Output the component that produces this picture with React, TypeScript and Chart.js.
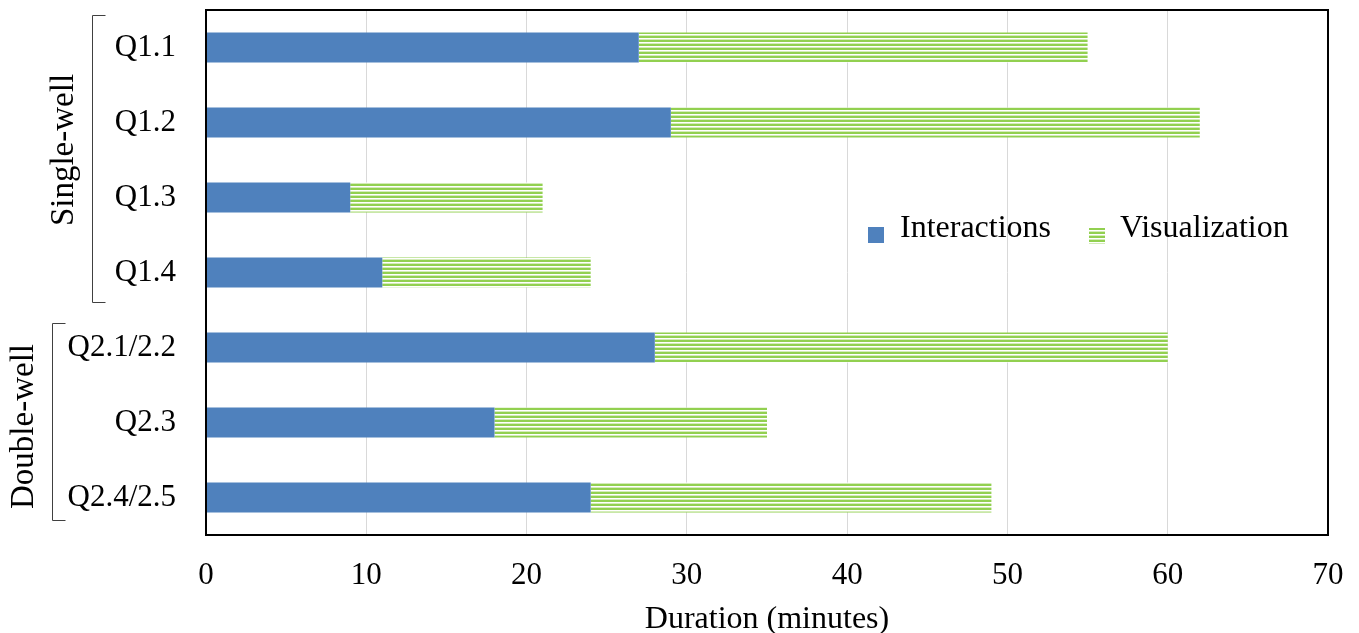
import React, { useEffect, useRef } from "react";
import { Chart, registerables } from "chart.js";

Chart.register(...registerables);

const categories = ["Q1.1", "Q1.2", "Q1.3", "Q1.4", "Q2.1/2.2", "Q2.3", "Q2.4/2.5"];
const interactions = [27, 29, 9, 11, 28, 18, 24];
const visualization = [28, 33, 12, 13, 32, 17, 25];
const seriesNames = ["Interactions", "Visualization"];
const groupNames = ["Single-well", "Double-well"];
const groupFirst = [0, 4];
const groupLast = [3, 6];
const axisTitle = "Duration (minutes)";

const FONT = "'Liberation Serif', 'Times New Roman', serif";
const BLUE = "#4F81BD";
const GREEN = "#92D050";

function makeStripes(ctx: CanvasRenderingContext2D): CanvasPattern | string {
  const c = document.createElement("canvas");
  c.width = 4;
  c.height = 4;
  const g = c.getContext("2d");
  if (!g) return GREEN;
  g.fillStyle = "#ffffff";
  g.fillRect(0, 0, 4, 4);
  g.fillStyle = GREEN;
  g.fillRect(0, 0, 4, 2);
  g.fillStyle = "#d4ecb9";
  g.fillRect(0, 3, 4, 1);
  const p = ctx.createPattern(c, "repeat");
  return p || GREEN;
}

function zeroPad(s: any) {
  s.paddingTop = 0;
  s.paddingBottom = 0;
  s.paddingLeft = 0;
  s.paddingRight = 0;
}

export default function App() {
  const ref = useRef<HTMLCanvasElement | null>(null);

  useEffect(() => {
    const canvas = ref.current;
    if (!canvas) return;
    const ctx0 = canvas.getContext("2d")!;
    const stripes = makeStripes(ctx0);

    const groupStyle = [
      { bracketX: 92, topInset: 33, bottomInset: 29, textX: 73, dy: -10 },
      { bracketX: 52, topInset: 25, bottomInset: 22, textX: 33, dy: 4 },
    ];

    const extras = {
      id: "extras",
      afterDatasetsDraw(chart: any) {
        const { ctx, chartArea } = chart;
        const y = chart.scales.y;
        ctx.save();
        // plot border
        ctx.strokeStyle = "#000000";
        ctx.lineWidth = 2;
        ctx.strokeRect(chartArea.left, chartArea.top, chartArea.right - chartArea.left, chartArea.bottom - chartArea.top);

        // groups
        ctx.strokeStyle = "#404040";
        ctx.lineWidth = 1;
        ctx.fillStyle = "#000000";
        ctx.font = `33px ${FONT}`;
        for (let i = 0; i < groupNames.length; i++) {
          const s = groupStyle[i];
          const y0 = y.getPixelForValue(groupFirst[i]) - s.topInset;
          const y1 = y.getPixelForValue(groupLast[i]) + s.bottomInset;
          ctx.beginPath();
          ctx.moveTo(s.bracketX + 13.5, Math.round(y0) + 0.5);
          ctx.lineTo(s.bracketX + 0.5, Math.round(y0) + 0.5);
          ctx.lineTo(s.bracketX + 0.5, Math.round(y1) + 0.5);
          ctx.lineTo(s.bracketX + 13.5, Math.round(y1) + 0.5);
          ctx.stroke();
          const cy = (y.getPixelForValue(groupFirst[i]) + y.getPixelForValue(groupLast[i])) / 2 + s.dy;
          ctx.save();
          ctx.translate(s.textX, cy);
          ctx.rotate(-Math.PI / 2);
          ctx.textAlign = "center";
          ctx.textBaseline = "alphabetic";
          ctx.fillText(groupNames[i], 0, 0);
          ctx.restore();
        }

        // legend
        ctx.font = `32px ${FONT}`;
        ctx.textBaseline = "alphabetic";
        ctx.textAlign = "left";
        const ly = 237;
        ctx.fillStyle = BLUE;
        ctx.fillRect(868, 227, 16, 16);
        ctx.fillStyle = "#000000";
        ctx.fillText(seriesNames[0], 900, ly);
        ctx.fillStyle = stripes as any;
        ctx.fillRect(1089, 228, 16, 16);
        ctx.fillStyle = "#000000";
        ctx.fillText(seriesNames[1], 1120, ly);
        ctx.restore();
      },
    };

    const chart = new Chart(canvas, {
      type: "bar",
      data: {
        labels: categories,
        datasets: [
          {
            label: seriesNames[0],
            data: interactions,
            backgroundColor: BLUE,
            borderWidth: 0,
            barPercentage: 0.4,
            categoryPercentage: 1.0,
          },
          {
            label: seriesNames[1],
            data: visualization,
            backgroundColor: stripes as any,
            borderWidth: 0,
            barPercentage: 0.4,
            categoryPercentage: 1.0,
          },
        ],
      },
      options: {
        indexAxis: "y",
        animation: false,
        responsive: true,
        maintainAspectRatio: false,
        layout: { padding: { top: 10, right: 31, left: 0, bottom: 0 } },
        plugins: {
          legend: { display: false },
          tooltip: { enabled: false },
        },
        scales: {
          x: {
            stacked: true,
            min: 0,
            max: 70,
            ticks: {
              stepSize: 10,
              color: "#000000",
              font: { family: FONT, size: 31 },
              padding: 22,
            },
            grid: { color: "#d9d9d9", lineWidth: 1, drawTicks: false },
            border: { display: false },
            title: {
              display: true,
              text: axisTitle,
              color: "#000000",
              font: { family: FONT, size: 32, lineHeight: 1.0 },
              padding: { top: 0, bottom: -3 },
            },
            afterFit: (s: any) => {
              s.height = 98;
              zeroPad(s);
            },
          },
          y: {
            stacked: true,
            ticks: {
              color: "#000000",
              font: { family: FONT, size: 31 },
              padding: 30,
            },
            grid: { display: false, drawTicks: false },
            border: { display: false },
            afterFit: (s: any) => {
              s.width = 206;
              zeroPad(s);
            },
          },
        },
      },
      plugins: [extras],
    });

    return () => chart.destroy();
  }, []);

  return (
    <div style={{ position: "absolute", left: 0, top: 0, width: 1359, height: 633, background: "#ffffff" }}>
      <canvas ref={ref} />
    </div>
  );
}
